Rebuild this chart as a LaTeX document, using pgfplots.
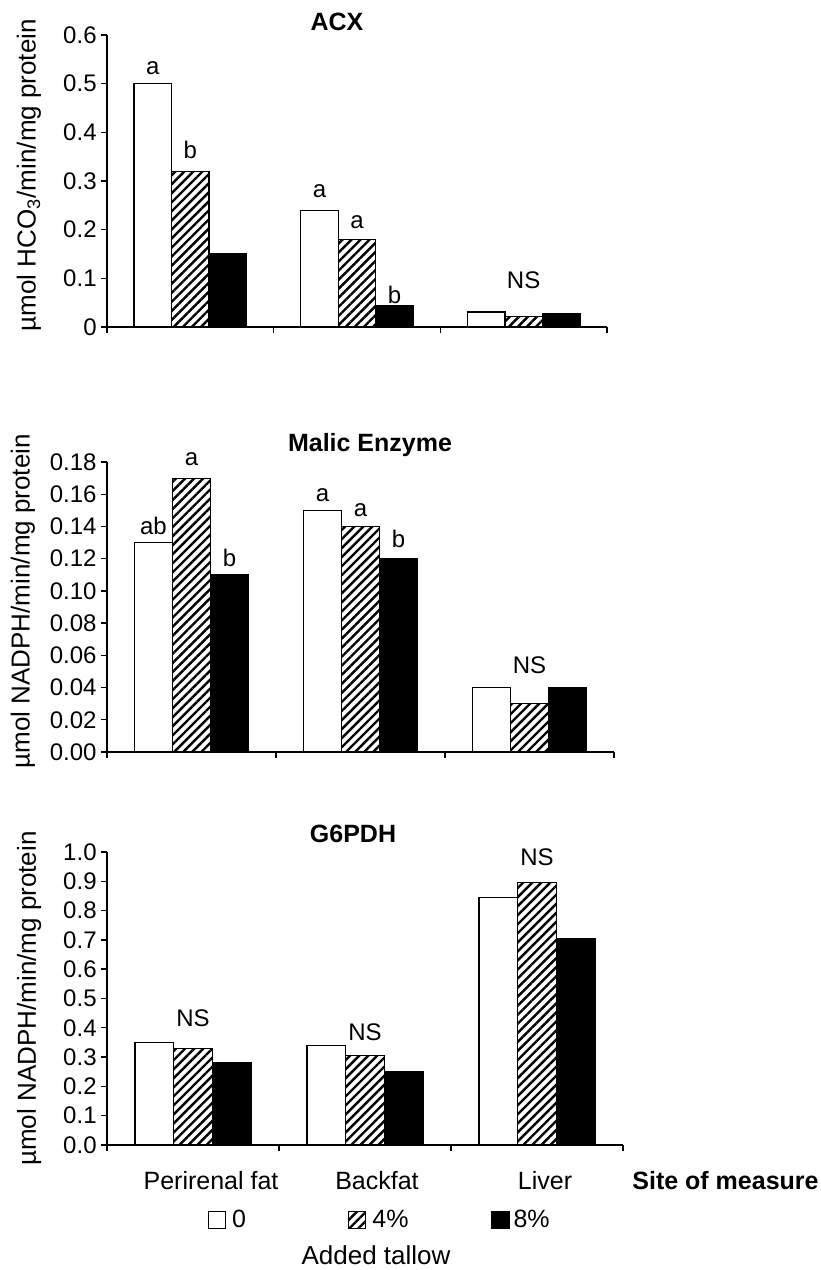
\documentclass[border=0pt]{standalone}
\usepackage{fontspec}
\setmainfont{Liberation Sans}
\usepackage{pgfplots}
\usepackage{pgfplotstable}
\pgfplotsset{compat=1.18}
\usetikzlibrary{patterns.meta}

\pgfplotstableread{
site t0 t4 t8
0 0.50 0.32 0.15
1 0.24 0.18 0.043
2 0.031 0.022 0.028
}\acx
\pgfplotstableread{
site t0 t4 t8
0 0.13 0.17 0.11
1 0.15 0.14 0.12
2 0.04 0.03 0.04
}\malic
\pgfplotstableread{
site t0 t4 t8
0 0.35 0.33 0.28
1 0.34 0.305 0.25
2 0.845 0.895 0.705
}\gsix

\tikzset{
  hatch/.style={pattern={Lines[angle=45,distance=3.2pt,line width=1.2pt]}},
  lab/.style={anchor=base, font=\fontsize{12}{14}\selectfont, inner sep=0pt},
  ttl/.style={font=\bfseries\fontsize{12.5}{15}\selectfont},
}
\pgfplotsset{
  myaxis/.style={
    scale only axis,
    axis lines*=left,
    xmin=-0.5, xmax=2.5, ymin=0,
    xtick={-0.5,0.5,1.5,2.5}, xticklabels={},
    tick align=outside,
    major tick length=3pt,
    tick style={black, line width=0.7pt},
    axis line style={black, line width=0.8pt},
    yticklabel style={font=\fontsize{12}{14}\selectfont, inner sep=2pt},
    ylabel style={font=\fontsize{13}{15}\selectfont, anchor=center},
    ybar, bar width=0.225,
    clip=false,
  },
  b0/.style={draw=black, fill=white, line width=0.6pt, bar shift=0pt},
  b4/.style={draw=black, hatch, line width=0.6pt, bar shift=0pt},
  b8/.style={draw=black, fill=black, line width=0.6pt, bar shift=0pt},
}

\begin{document}
\begin{tikzpicture}
\path[use as bounding box] (0pt,0pt) rectangle (410pt,635pt);

% ---------------- ACX ----------------
\begin{axis}[myaxis,
  at={(53.5pt,471.5pt)}, anchor=south west,
  width=250pt, height=146pt,
  ymax=0.6,
  ytick={0,0.1,0.2,0.3,0.4,0.5,0.6},
  yticklabels={0,0.1,0.2,0.3,0.4,0.5,0.6},
  ylabel={µmol HCO\textsubscript{3}/min/mg protein},
  ylabel style={at={(axis description cs:-0.156,0.52)}},
]
\addplot[b0] table[x expr=\thisrow{site}-0.225, y=t0] {\acx};
\addplot[b4] table[x expr=\thisrow{site}, y=t4] {\acx};
\addplot[b8] table[x expr=\thisrow{site}+0.225, y=t8] {\acx};
\node[lab] at (axis cs:-0.225,0.518) {a};
\node[lab] at (axis cs:0,0.347) {b};
\node[lab] at (axis cs:0.775,0.267) {a};
\node[lab] at (axis cs:1,0.203) {a};
\node[lab] at (axis cs:1.225,0.049) {b};
\node[lab] at (axis cs:2,0.080) {NS};
\end{axis}
\node[ttl] at (168.5pt,624pt) {ACX};

% ---------------- Malic Enzyme ----------------
\begin{axis}[myaxis,
  at={(53.5pt,259pt)}, anchor=south west,
  width=253.5pt, height=145pt,
  ymax=0.18,
  ytick={0,0.02,0.04,0.06,0.08,0.10,0.12,0.14,0.16,0.18},
  yticklabels={0.00,0.02,0.04,0.06,0.08,0.10,0.12,0.14,0.16,0.18},
  ylabel={µmol NADPH/min/mg protein},
  ylabel style={at={(axis description cs:-0.166,0.52)}},
]
\addplot[b0] table[x expr=\thisrow{site}-0.225, y=t0] {\malic};
\addplot[b4] table[x expr=\thisrow{site}, y=t4] {\malic};
\addplot[b8] table[x expr=\thisrow{site}+0.225, y=t8] {\malic};
\node[lab] at (axis cs:-0.225,0.1347) {ab};
\node[lab] at (axis cs:0,0.178) {a};
\node[lab] at (axis cs:0.225,0.115) {b};
\node[lab] at (axis cs:0.775,0.1554) {a};
\node[lab] at (axis cs:1,0.146) {a};
\node[lab] at (axis cs:1.225,0.127) {b};
\node[lab] at (axis cs:2,0.0489) {NS};
\end{axis}
\node[ttl] at (185pt,412.5pt) {Malic Enzyme};

% ---------------- G6PDH ----------------
\begin{axis}[myaxis,
  at={(53.5pt,62.5pt)}, anchor=south west,
  width=258pt, height=146.5pt,
  ymax=1.0,
  ytick={0,0.1,0.2,0.3,0.4,0.5,0.6,0.7,0.8,0.9,1.0},
  yticklabels={0.0,0.1,0.2,0.3,0.4,0.5,0.6,0.7,0.8,0.9,1.0},
  ylabel={µmol NADPH/min/mg protein},
  ylabel style={at={(axis description cs:-0.151,0.5)}},
  legend image code/.code={\draw[#1] (0pt,-4.25pt) rectangle (8.5pt,4.25pt);},
  legend style={at={(axis description cs:0.1957,-0.256)}, anchor=west,
    draw=none, fill=none, inner sep=0pt, outer sep=0pt, column sep=0pt,
    nodes={inner sep=1pt, font=\fontsize{12.5}{15}\selectfont}},
  legend columns=3,
  legend cell align=left,
]
\addplot[b0] table[x expr=\thisrow{site}-0.225, y=t0] {\gsix};
\addlegendentry{\makebox[59pt][l]{\hspace{2pt}0}}
\addplot[b4] table[x expr=\thisrow{site}, y=t4] {\gsix};
\addlegendentry{\makebox[60.5pt][l]{\hspace{2pt}4\%}}
\addplot[b8] table[x expr=\thisrow{site}+0.225, y=t8] {\gsix};
\addlegendentry{\hspace{1pt}8\%}
\node[lab] at (axis cs:0,0.403) {NS};
\node[lab] at (axis cs:1,0.358) {NS};
\node[lab] at (axis cs:2,0.955) {NS};
\end{axis}
\node[ttl] at (176.5pt,218pt) {G6PDH};

% category labels and captions
\node[anchor=base, font=\fontsize{12.5}{15}\selectfont] at (105.5pt,40pt) {Perirenal fat};
\node[anchor=base, font=\fontsize{12.5}{15}\selectfont] at (188.5pt,40pt) {Backfat};
\node[anchor=base, font=\fontsize{12.5}{15}\selectfont] at (272.5pt,40pt) {Liver};
\node[anchor=base west, inner sep=0pt, font=\bfseries\fontsize{12.5}{15}\selectfont] at (316pt,40pt) {Site of measure};
\node[anchor=base, font=\fontsize{13}{15}\selectfont] at (188pt,2.5pt) {Added tallow};
\end{tikzpicture}
\end{document}
